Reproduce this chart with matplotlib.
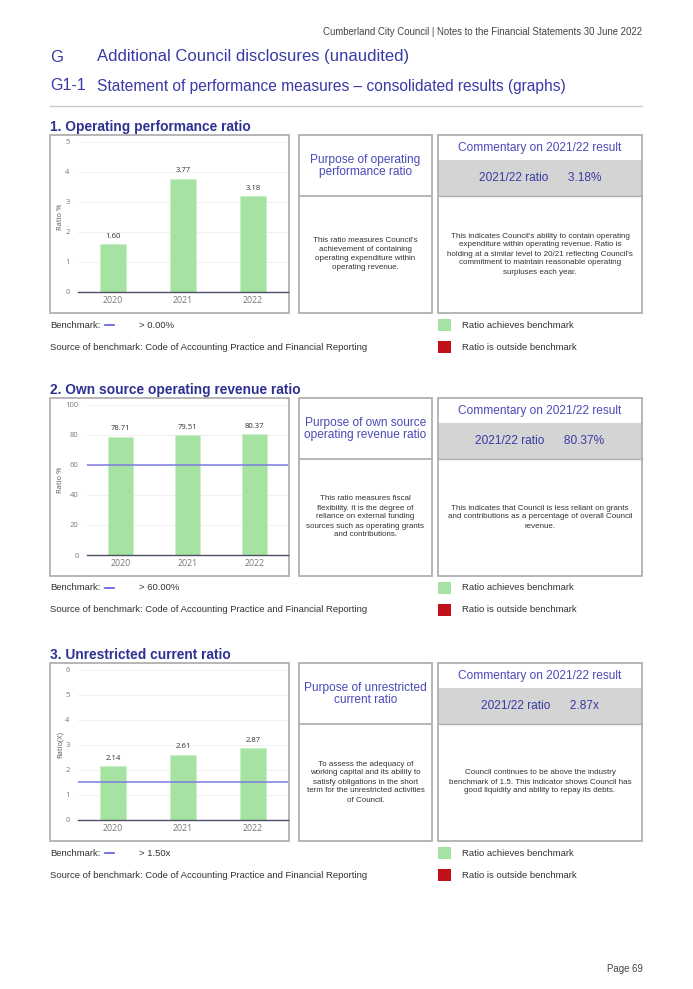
import matplotlib
matplotlib.use("Agg")
import matplotlib.pyplot as plt
from matplotlib.patches import Rectangle

# data
years = ["2020", "2021", "2022"]
op_perf = [1.60, 3.77, 3.18]
own_source = [78.71, 79.51, 80.37]
unrestricted = [2.14, 2.61, 2.87]

titles = ["1. Operating performance ratio",
          "2. Own source operating revenue ratio",
          "3. Unrestricted current ratio"]
ylabels = ["Ratio %", "Ratio %", "Ratio(X)"]
ymax = [5, 100, 6]
ystep = [1, 20, 1]
benchmarks = [0.0, 60.0, 1.5]
bench_text = ["> 0.00%", "> 60.00%", "> 1.50x"]
ratio_text = ["3.18%", "80.37%", "2.87x"]
purpose_titles = ["Purpose of operating\nperformance ratio",
                  "Purpose of own source\noperating revenue ratio",
                  "Purpose of unrestricted\ncurrent ratio"]
purpose_body = [
    "This ratio measures Council's\nachievement of containing\noperating expenditure within\noperating revenue.",
    "This ratio measures fiscal\nflexibility. It is the degree of\nreliance on external funding\nsources such as operating grants\nand contributions.",
    "To assess the adequacy of\nworking capital and its ability to\nsatisfy obligations in the short\nterm for the unrestricted activities\nof Council.",
]
commentary = [
    "This indicates Council's ability to contain operating\nexpenditure within operating revenue. Ratio is\nholding at a similar level to 20/21 reflecting Council's\ncommitment to maintain reasonable operating\nsurpluses each year.",
    "This indicates that Council is less reliant on grants\nand contributions as a percentage of overall Council\nrevenue.",
    "Council continues to be above the industry\nbenchmark of 1.5. This indicator shows Council has\ngood liquidity and ability to repay its debts.",
]
series = [op_perf, own_source, unrestricted]

W, H = 693, 989
HEAD = "#3a3aa6"
SEC = "#2e3192"
BOXT = "#4a4ab8"
BAR = "#a6e3a3"
BLINE = "#7b7be0"
EDGE = "#b0b0b0"
TXT = "#333333"

plt.rcParams["font.family"] = ["Liberation Sans", "DejaVu Sans"]
fig = plt.figure(figsize=(W / 100, H / 100), dpi=100)
bg = fig.add_axes([0, 0, 1, 1])
bg.set_xlim(0, W)
bg.set_ylim(H, 0)
bg.axis("off")

# page header
bg.text(642, 32, "Cumberland City Council | Notes to the Financial Statements 30 June 2022",
        ha="right", va="center", fontsize=6.9, color="#444444")
bg.text(50, 57, "G", fontsize=12, color=HEAD, va="center")
bg.text(97, 57, "Additional Council disclosures (unaudited)", fontsize=12, color=HEAD, va="center")
bg.text(50, 86, "G1-1", fontsize=11.5, color=HEAD, va="center")
bg.text(97, 86, "Statement of performance measures \u2013 consolidated results (graphs)",
        fontsize=11.2, color=HEAD, va="center")
bg.plot([50, 642], [106, 106], color="#cccccc", lw=1)
bg.text(643, 969, "Page 69", ha="right", va="center", fontsize=6.9, color="#444444")

tops = [135, 398, 663]
for i, top in enumerate(tops):
    # section title
    bg.text(50, top - 8, titles[i], fontsize=9.9, fontweight="bold", color=SEC, va="center")
    # chart frame
    bg.add_patch(Rectangle((50, top), 239, 178, fill=False, ec=EDGE, lw=1.3))
    # purpose box
    bg.add_patch(Rectangle((299, top), 133, 178, fill=False, ec=EDGE, lw=1.3))
    bg.plot([299, 432], [top + 61, top + 61], color=EDGE, lw=1.3)
    bg.text(365.5, top + 31, purpose_titles[i], ha="center", va="center",
            fontsize=8.6, color=BOXT, linespacing=1.1)
    bg.text(365.5, top + 119, purpose_body[i], ha="center", va="center",
            fontsize=5.8, color=TXT, linespacing=1.4)
    # commentary box
    bg.add_patch(Rectangle((438, top + 25), 204, 36, fc="#d4d4d4", ec="none"))
    bg.add_patch(Rectangle((438, top), 204, 178, fill=False, ec=EDGE, lw=1.3))
    bg.plot([438, 642], [top + 61, top + 61], color=EDGE, lw=1.0)
    bg.text(540, top + 13, "Commentary on 2021/22 result", ha="center", va="center",
            fontsize=8.6, color=BOXT)
    bg.text(540, top + 43, "2021/22 ratio      " + ratio_text[i], ha="center", va="center",
            fontsize=8.6, color=HEAD)
    bg.text(540, top + 119, commentary[i], ha="center", va="center",
            fontsize=5.8, color=TXT, linespacing=1.4)
    # benchmark and legend
    by = top + 190
    sy = top + 212
    bg.text(50, by, "Benchmark:", fontsize=6.8, color=TXT, va="center")
    bg.plot([105, 114], [by, by], color="#5a5ae0", lw=1.2)
    bg.text(139, by, bench_text[i], fontsize=6.8, color=TXT, va="center")
    bg.text(50, sy, "Source of benchmark: Code of Accounting Practice and Financial Reporting",
            fontsize=6.8, color=TXT, va="center")
    bg.add_patch(Rectangle((438, by - 6), 13, 12, fc=BAR, ec="none"))
    bg.add_patch(Rectangle((438, sy - 6), 13, 12, fc="#c0101a", ec="none"))
    bg.text(462, by, "Ratio achieves benchmark", fontsize=6.8, color=TXT, va="center")
    bg.text(462, sy, "Ratio is outside benchmark", fontsize=6.8, color=TXT, va="center")

    # bar chart
    x0 = 87 if i == 1 else 78
    x1 = 288
    ytop = top + 6.5
    ybot = top + 157
    ax = fig.add_axes([x0 / W, (H - ybot) / H, (x1 - x0) / W, (ybot - ytop) / H])
    ax.set_facecolor("none")
    xs = range(len(years))
    ax.bar(xs, series[i], width=0.36, color=BAR, edgecolor="#c8f0c6", lw=0.6, zorder=2)
    for xv, v in zip(xs, series[i]):
        ax.annotate(f"{v:.2f}", (xv, v), xytext=(0, 3), textcoords="offset points",
                    ha="center", va="bottom", fontsize=5.6, color=TXT, family="Open Sans")
    if benchmarks[i] > 0:
        ax.axhline(benchmarks[i], color=BLINE, lw=1.1, zorder=3)
    ax.set_xlim(-0.5, 2.5)
    ax.set_ylim(0, ymax[i])
    ax.set_yticks(range(0, ymax[i] + 1, ystep[i]))
    ax.set_xticks(list(xs))
    ax.set_xticklabels(years)
    ax.grid(axis="y", color="#eeeeee", lw=0.6, zorder=0)
    for s in ["top", "right", "left"]:
        ax.spines[s].set_visible(False)
    ax.spines["bottom"].set_color("#4d4d66")
    ax.spines["bottom"].set_linewidth(1.0)
    ax.tick_params(length=0, labelsize=5.5, labelcolor="#777777", pad=6)
    for lab in ax.get_xticklabels():
        lab.set_fontsize(6.3)
        lab.set_family("Open Sans")
    ax.tick_params(axis="x", pad=3)
    for lab in ax.get_yticklabels():
        lab.set_family("Open Sans")
    ax.set_ylabel(ylabels[i], fontsize=5.5, color="#555555", labelpad=1, family="Open Sans")

fig.savefig("out.png", dpi=100)
